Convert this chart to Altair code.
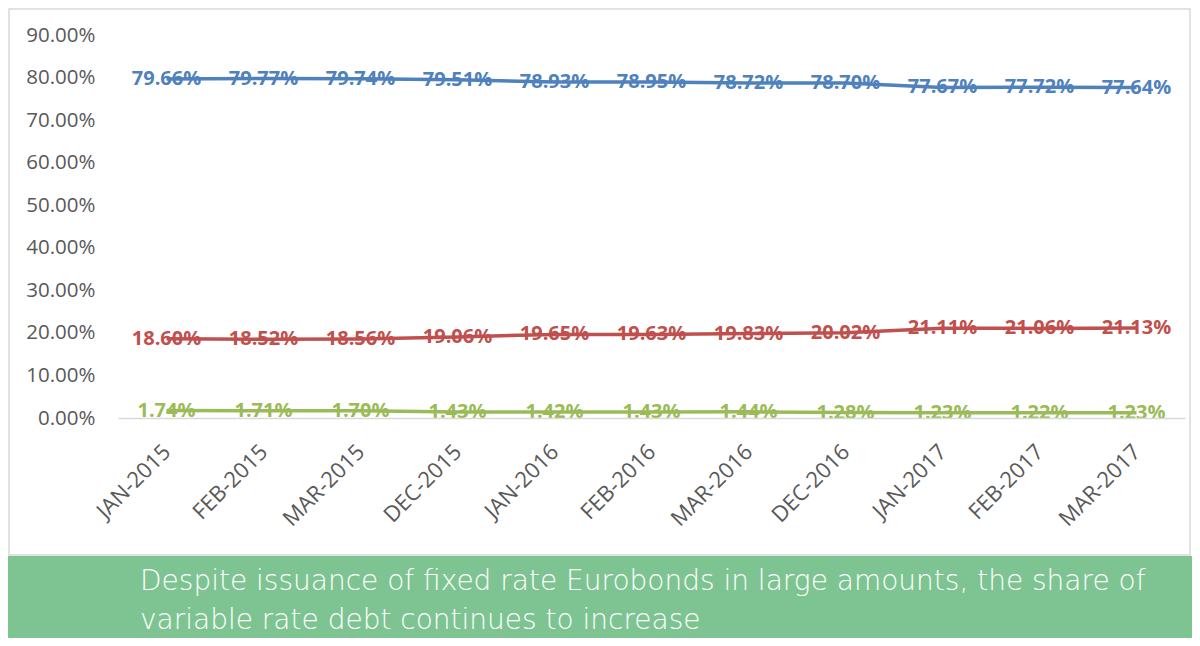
import altair as alt
import pandas as pd

categories = ["JAN-2015", "FEB-2015", "MAR-2015", "DEC-2015", "JAN-2016", "FEB-2016",
              "MAR-2016", "DEC-2016", "JAN-2017", "FEB-2017", "MAR-2017"]
fixed_rate = [79.66, 79.77, 79.74, 79.51, 78.93, 78.95, 78.72, 78.70, 77.67, 77.72, 77.64]
variable_rate = [18.60, 18.52, 18.56, 19.06, 19.65, 19.63, 19.83, 20.02, 21.11, 21.06, 21.13]
other_rate = [1.74, 1.71, 1.70, 1.43, 1.42, 1.43, 1.44, 1.28, 1.23, 1.22, 1.23]
series_names = ["Fixed", "Variable", "Other"]
series_colors = ["#4F81BD", "#C0504D", "#9BBB59"]
caption_lines = ["Despite issuance of fixed rate Eurobonds in large amounts, the share of",
                 "variable rate debt continues to increase"]

rows = []
for name, vals in zip(series_names, [fixed_rate, variable_rate, other_rate]):
    for c, v in zip(categories, vals):
        rows.append({"month": c, "series": name, "value": v / 100.0})
df = pd.DataFrame(rows)

one = pd.DataFrame([{"k": 1}])

W, H = 1067, 383
FONT = "Open Sans"

x_enc = alt.X("month:N", sort=categories,
              scale=alt.Scale(type="point", padding=0.5),
              axis=alt.Axis(title=None, labelAngle=-45, labelAlign="right",
                            labelBaseline="middle", labelFontSize=22, labelFont=FONT,
                            labelColor="#595959", labelPadding=30, ticks=False,
                            domainColor="#D9D9D9", domainWidth=1.5, grid=False, zindex=1))
y_enc = alt.Y("value:Q", scale=alt.Scale(domain=[0, 0.9], nice=False),
              axis=alt.Axis(title=None, format=".2%", values=[i / 10 for i in range(10)],
                            labelFontSize=20.5, labelFont=FONT, labelColor="#595959",
                            labelPadding=23, ticks=False, domain=False, grid=False, zindex=1))
color_enc = alt.Color("series:N", sort=series_names,
                      scale=alt.Scale(domain=series_names, range=series_colors), legend=None)

border = alt.Chart(one).mark_rect(fillOpacity=0, stroke="#D9D9D9", strokeWidth=1.5).encode(
    x=alt.value(-109), x2=alt.value(1072), y=alt.value(-26), y2=alt.value(520))

lines = alt.Chart(df).mark_line(strokeWidth=3.5).encode(
    x=x_enc, y=y_enc, color=color_enc, detail="series:N")

labels = alt.Chart(df).mark_text(fontSize=20, fontWeight="bold", font=FONT,
                                 baseline="middle", align="center").encode(
    x=alt.X("month:N", sort=categories), y="value:Q",
    text=alt.Text("value:Q", format=".2%"), color=color_enc)

green = alt.Chart(one).mark_rect(fill="#7EC492").encode(
    x=alt.value(-115), x2=alt.value(1090), y=alt.value(521), y2=alt.value(640))

CAPFONT = "DejaVu Sans"
cap1 = alt.Chart(one).mark_text(text=caption_lines[0], fontSize=28, font=CAPFONT, fontWeight=200,
                                color="white", align="left", baseline="alphabetic").encode(
    x=alt.value(22), y=alt.value(555))
cap2 = alt.Chart(one).mark_text(text=caption_lines[1], fontSize=28, font=CAPFONT, fontWeight=200,
                                color="white", align="left", baseline="alphabetic").encode(
    x=alt.value(22), y=alt.value(594))

chart = alt.layer(border, lines, labels, green, cap1, cap2).properties(
    width=W, height=H,
    background="white",
    autosize=alt.AutoSizeParams(type="none"),
    padding={"left": 110, "top": 27, "right": 7, "bottom": 220},
).configure_view(strokeWidth=0, stroke="transparent")

chart.save("out.html", embed_options={"renderer": "svg", "actions": False})
